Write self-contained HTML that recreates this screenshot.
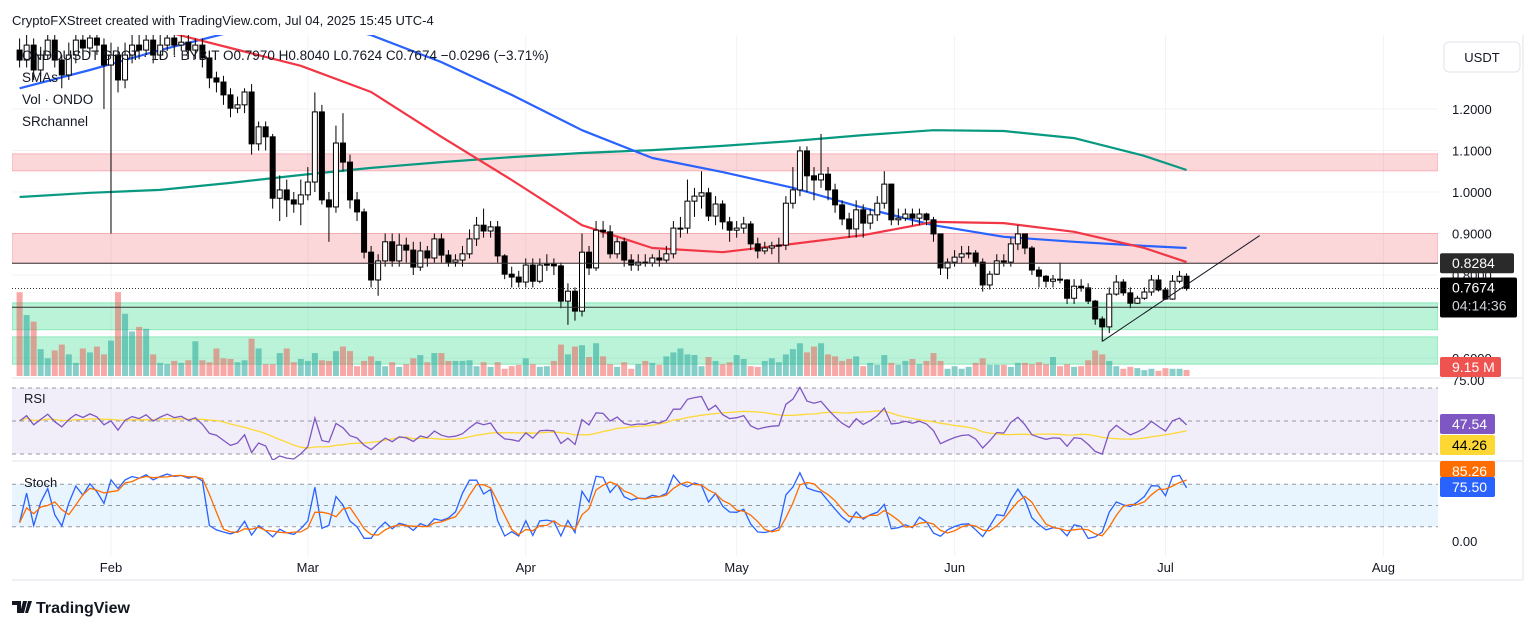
<!DOCTYPE html>
<html><head><meta charset="utf-8">
<style>
html,body{margin:0;padding:0;background:#fff;}
body{width:1536px;height:630px;overflow:hidden;font-family:"Liberation Sans",sans-serif;}
svg text{font-family:"Liberation Sans",sans-serif;}
</style></head>
<body>
<svg id="chart" width="1536" height="630" viewBox="0 0 1536 630" xmlns="http://www.w3.org/2000/svg">
  <defs>
    <clipPath id="mainClip"><rect x="12" y="35" width="1426" height="342"/></clipPath>
    <clipPath id="rsiClip"><rect x="12" y="380" width="1426" height="80"/></clipPath>
    <clipPath id="stClip"><rect x="12" y="463" width="1426" height="92"/></clipPath>
  </defs>
  <g id="grid"></g>
  <g id="zones" clip-path="url(#mainClip)"></g>
  <g id="vol" clip-path="url(#mainClip)"></g>
  <g id="smas" clip-path="url(#mainClip)"></g>
  <g id="candles" clip-path="url(#mainClip)"></g>
  <g id="annot" clip-path="url(#mainClip)"></g>
  <g id="rsi"></g>
  <g id="stoch"></g>
  <g id="axes"></g>

  <text x="12" y="25" font-size="13" fill="#131722">CryptoFXStreet created with TradingView.com, Jul 04, 2025 15:45 UTC-4</text>
  <text x="22" y="60" font-size="13.5" fill="#131722">ONDOUSDT SPOT · 1D · BYBIT  O0.7970  H0.8040  L0.7624  C0.7674  −0.0296 (−3.71%)</text>
  <text x="22" y="82" font-size="13.5" fill="#131722">SMAs</text>
  <text x="22" y="104" font-size="13.5" fill="#131722">Vol · ONDO</text>
  <text x="22" y="126" font-size="13.5" fill="#131722">SRchannel</text>
  <text x="24" y="403" font-size="13" fill="#131722">RSI</text>
  <text x="24" y="487" font-size="13" fill="#131722">Stoch</text>

  <g>
    <path d="M12 601h9v12h-4v-8h-5z M23 601h4l-3 12h-4z M28 601h4l-4 12h-3z" fill="#131722"/>
    <text x="36" y="613" font-size="16" font-weight="bold" fill="#131722">TradingView</text>
  </g>
</svg>
<script>
const NS="http://www.w3.org/2000/svg";
// ---------- DATA ----------
const closes=[1.318,1.354,1.294,1.330,1.366,1.318,1.282,1.330,1.366,1.347,
1.371,1.354,1.306,1.330,1.270,1.330,1.354,1.342,1.366,1.330,
1.354,1.371,1.354,1.361,1.342,1.354,1.323,1.275,1.265,1.234,
1.202,1.210,1.241,1.116,1.157,1.133,0.985,1.005,0.981,0.971,
0.993,1.024,1.193,0.981,0.964,1.118,1.072,0.981,0.952,0.855,
0.788,0.834,0.880,0.834,0.872,0.860,0.819,0.858,0.841,0.887,
0.848,0.831,0.836,0.851,0.887,0.920,0.906,0.916,0.846,0.802,
0.795,0.783,0.824,0.785,0.824,0.826,0.822,0.737,0.761,0.713,
0.855,0.817,0.908,0.904,0.851,0.880,0.836,0.824,0.831,0.829,
0.841,0.836,0.851,0.913,0.913,0.978,0.990,0.998,0.942,0.971,
0.928,0.908,0.913,0.923,0.875,0.858,0.865,0.870,0.872,0.973,
1.005,1.099,1.039,1.029,1.043,1.005,0.969,0.935,0.911,0.957,
0.925,0.945,0.973,1.019,0.933,0.937,0.947,0.937,0.947,0.933,
0.899,0.817,0.831,0.843,0.851,0.853,0.831,0.776,0.802,0.834,
0.831,0.875,0.899,0.865,0.812,0.797,0.785,0.790,0.788,0.744,
0.773,0.769,0.737,0.694,0.675,0.754,0.783,0.757,0.732,0.744,
0.759,0.788,0.764,0.742,0.785,0.797,0.7674];
const highs=[1.37,1.38,1.37,1.35,1.40,1.39,1.33,1.36,1.40,1.39,
1.40,1.40,1.37,1.36,1.35,1.36,1.38,1.38,1.40,1.38,
1.38,1.40,1.39,1.39,1.38,1.37,1.37,1.34,1.29,1.28,
1.25,1.23,1.25,1.26,1.17,1.17,1.14,1.04,1.03,1.00,
1.03,1.06,1.24,1.21,1.00,1.16,1.19,1.09,1.00,0.96,
0.87,0.85,0.90,0.90,0.90,0.89,0.88,0.88,0.87,0.90,
0.90,0.86,0.85,0.87,0.91,0.94,0.96,0.93,0.93,0.85,
0.82,0.81,0.84,0.84,0.84,0.85,0.84,0.83,0.78,0.77,
0.90,0.87,0.93,0.93,0.92,0.89,0.89,0.85,0.85,0.85,
0.85,0.86,0.87,0.93,0.94,1.03,1.01,1.05,1.01,0.99,
0.98,0.94,0.93,0.94,0.93,0.89,0.88,0.88,0.89,0.99,
1.06,1.11,1.11,1.06,1.14,1.06,1.02,0.98,0.95,0.98,
0.97,0.96,0.99,1.05,1.02,0.96,0.96,0.96,0.96,0.95,
0.94,0.90,0.84,0.86,0.87,0.87,0.86,0.84,0.81,0.85,
0.85,0.89,0.92,0.90,0.87,0.82,0.80,0.80,0.83,0.79,
0.79,0.79,0.78,0.74,0.70,0.77,0.80,0.79,0.77,0.75,
0.77,0.80,0.80,0.77,0.80,0.81,0.804];
const lows=[1.30,1.30,1.27,1.28,1.32,1.30,1.25,1.27,1.31,1.33,
1.33,1.33,1.20,0.90,1.24,1.25,1.31,1.32,1.33,1.31,
1.32,1.34,1.33,1.34,1.32,1.32,1.30,1.25,1.24,1.21,
1.18,1.19,1.19,1.09,1.10,1.10,0.96,0.93,0.94,0.95,
0.92,0.98,1.00,0.97,0.88,0.95,1.05,0.96,0.93,0.84,
0.77,0.75,0.82,0.82,0.82,0.83,0.80,0.81,0.82,0.83,
0.83,0.82,0.82,0.82,0.84,0.87,0.89,0.89,0.83,0.79,
0.77,0.77,0.77,0.77,0.78,0.81,0.80,0.72,0.68,0.69,
0.70,0.80,0.81,0.89,0.84,0.84,0.82,0.81,0.81,0.82,
0.82,0.82,0.83,0.84,0.89,0.90,0.94,0.96,0.93,0.92,
0.91,0.88,0.89,0.90,0.86,0.84,0.85,0.85,0.83,0.86,
0.96,0.99,1.00,0.98,1.01,0.98,0.95,0.92,0.89,0.89,
0.89,0.91,0.93,0.96,0.92,0.92,0.93,0.92,0.92,0.92,
0.88,0.80,0.79,0.82,0.83,0.84,0.82,0.76,0.765,0.80,
0.82,0.82,0.86,0.85,0.80,0.77,0.77,0.77,0.78,0.73,
0.73,0.76,0.73,0.68,0.64,0.66,0.75,0.75,0.72,0.73,
0.74,0.75,0.76,0.74,0.74,0.78,0.7624];
const firstOpen=1.342;
const volumes=[128,93,83,41,27,39,48,33,20,42,36,45,33,54,128,95,68,75,72,33,
20,18,23,20,24,53,24,21,42,27,26,21,24,57,42,18,18,35,42,21,
26,23,35,24,23,38,45,38,15,23,30,23,15,21,14,18,27,32,21,35,
35,23,23,23,24,15,21,14,21,11,15,17,27,18,14,15,23,48,33,45,
47,29,50,30,18,14,21,11,18,23,20,17,30,36,42,33,32,15,29,23,
18,21,32,26,15,14,23,27,21,33,41,50,36,45,50,33,30,23,26,30,
15,20,17,32,20,17,23,26,18,23,35,23,11,15,11,14,20,27,17,17,
17,14,20,20,18,21,18,29,15,18,14,15,24,39,33,23,15,11,14,12,
9,11,8,12,11,11,9.15];
// SMA samples (price) every 10 bars + last
const smaIdx=[0,10,20,30,40,50,60,70,80,90,100,110,120,130,140,150,160,166];
const sma200=[0.988,0.998,1.005,1.022,1.041,1.058,1.072,1.084,1.094,1.101,1.111,1.123,1.137,1.149,1.147,1.130,1.087,1.053];
const sma100=[1.250,1.294,1.342,1.385,1.42,1.378,1.313,1.234,1.149,1.082,1.048,1.010,0.962,0.920,0.892,0.880,0.870,0.865];
const sma50Idx=[20,30,40,50,60,70,80,90,100,110,120,130,140,150,160,166];
const sma50=[1.39,1.347,1.304,1.241,1.133,1.029,0.920,0.865,0.855,0.875,0.896,0.928,0.925,0.904,0.865,0.831];
const priceTicks=[1.2,1.1,1.0,0.9,0.8,0.6];
const monthLabels=["Feb","Mar","Apr","May","Jun","Jul","Aug"];
const monthIdx=[13,41,72,102,133,163,194];

// ---------- SCALES ----------
const xOf=i=>19.6+7.03*i;
const yP=p=>192-(p-1.0)*415;
const yV=v=>376-v*0.655;
const yR=v=>421-(v-50)*1.65;
const yS=v=>541-v*0.71;
function el(tag,attrs,parent){const e=document.createElementNS(NS,tag);for(const k in attrs)e.setAttribute(k,attrs[k]);parent.appendChild(e);return e;}
const G=id=>document.getElementById(id);

// grid
const grid=G('grid');
monthIdx.forEach(i=>{const l=el('line',{x1:xOf(i),x2:xOf(i),y1:35,y2:556,stroke:'#f2f3f5','stroke-width':1},grid);

});
priceTicks.forEach(p=>{const l=el('line',{x1:12,x2:1438,y1:yP(p),y2:yP(p),stroke:'#f2f3f5'},grid);

});

// zones
const zones=G('zones');
function band(p1,p2,fill,stroke,name){const y1=yP(p1),y2=yP(p2);
 const r=el('rect',{x:12,y:y1,width:1426,height:y2-y1,fill:fill,stroke:stroke,'stroke-width':1},zones);
 
 }
band(1.092,1.051,'rgba(242,54,69,0.2)','rgba(242,54,69,0.3)','resistance-zone-upper');
band(0.9,0.8284,'rgba(242,54,69,0.2)','rgba(242,54,69,0.3)','resistance-zone-lower');
band(0.733,0.668,'rgba(0,210,110,0.27)','rgba(0,200,100,0.35)','support-zone-upper');
band(0.651,0.585,'rgba(0,210,110,0.27)','rgba(0,200,100,0.35)','support-zone-lower');

// volume
const vol=G('vol');
volumes.forEach((v,i)=>{const o=i?closes[i-1]:firstOpen;const up=closes[i]>=o;
 const r=el('rect',{x:xOf(i)-3,y:yV(v),width:6,height:376-yV(v),fill:up?'rgba(38,166,154,0.55)':'rgba(239,83,80,0.5)'},vol);
 
 });

// SMAs
const smas=G('smas');
function line(idx,vals,color,name){const d=idx.map((i,k)=>(k?'L':'M')+xOf(i).toFixed(1)+' '+yP(vals[k]).toFixed(1)).join(' ');
 const p=el('path',{d:d,fill:'none',stroke:color,'stroke-width':2.2,'stroke-linejoin':'round'},smas);
 
 }
line(smaIdx,sma200,'#089981','sma-200-line');
line(smaIdx,sma100,'#2962ff','sma-100-line');
line(sma50Idx,sma50,'#f23645','sma-50-line');

// candles
const cg=G('candles');
closes.forEach((c,i)=>{const o=i?closes[i-1]:firstOpen;const x=xOf(i);
 const w=el('line',{x1:x,x2:x,y1:yP(highs[i]),y2:yP(lows[i]),stroke:'#000','stroke-width':1},cg);
 
 
 const top=yP(Math.max(o,c)),bot=yP(Math.min(o,c));
 const b=el('rect',{x:x-2.5,y:top,width:5,height:Math.max(1,bot-top),fill:c>=o?'#fff':'#000',stroke:'#000','stroke-width':1},cg);
 
 });

// annotations
const an=G('annot');
let a=el('line',{x1:12,x2:1438,y1:yP(0.8284),y2:yP(0.8284),stroke:'#333','stroke-width':1},an);


a=el('line',{x1:12,x2:1438,y1:yP(0.7224),y2:yP(0.7224),stroke:'#333','stroke-width':1},an);


a=el('line',{x1:12,x2:1438,y1:yP(0.7674),y2:yP(0.7674),stroke:'#333','stroke-width':1,'stroke-dasharray':'1 2'},an);


a=el('line',{x1:xOf(154),y1:yP(0.64),x2:xOf(176.4),y2:yP(0.895),stroke:'#131722','stroke-width':1},an);



// RSI (Wilder, seeded neutral)
const rsiVals=[];{let ag=0.02,al=0.02;for(let i=1;i<closes.length;i++){const ch=closes[i]-closes[i-1];const g=Math.max(ch,0),l=Math.max(-ch,0);
 ag=(ag*13+g)/14;al=(al*13+l)/14;
 rsiVals[i]=al===0?100:100-100/(1+ag/al);} rsiVals[0]=50;}
const rsiMa=rsiVals.map((v,i)=>{const s=rsiVals.slice(Math.max(0,i-13),i+1);return s.reduce((a,b)=>a+b,0)/s.length;});
const rg=G('rsi');
let r=el('rect',{x:12,y:yR(70),width:1426,height:yR(30)-yR(70),fill:'rgba(126,87,194,0.1)'},rg);


[70,50,30].forEach(v=>{const l=el('line',{x1:12,x2:1438,y1:yR(v),y2:yR(v),stroke:'#9598a1','stroke-width':1,'stroke-dasharray':'4 4'},rg);
 
 });
function pline(arr,yf,color,parent,name,clip){const d=arr.map((v,i)=>(i?'L':'M')+xOf(i).toFixed(1)+' '+yf(v).toFixed(1)).join(' ');
 const p=el('path',{d:d,fill:'none',stroke:color,'stroke-width':1.3,'clip-path':clip},parent);
 
 }
pline(rsiMa,yR,'#fdd835',rg,'rsi-ma-line','url(#rsiClip)');
pline(rsiVals,yR,'#7e57c2',rg,'rsi-line','url(#rsiClip)');

// Stoch
const kVals=closes.map((c,i)=>{const s=Math.max(0,i-13);const hh=Math.max(...highs.slice(s,i+1)),ll=Math.min(...lows.slice(s,i+1));return hh===ll?50:100*(c-ll)/(hh-ll);});
const dVals=kVals.map((v,i)=>{const s=kVals.slice(Math.max(0,i-2),i+1);return s.reduce((a,b)=>a+b,0)/s.length;});
const sg=G('stoch');
r=el('rect',{x:12,y:yS(80),width:1426,height:yS(20)-yS(80),fill:'rgba(33,150,243,0.1)'},sg);


[80,50,20].forEach(v=>{const l=el('line',{x1:12,x2:1438,y1:yS(v),y2:yS(v),stroke:'#9598a1','stroke-width':1,'stroke-dasharray':'4 4'},sg);
 
 });
pline(kVals,yS,'#2962ff',sg,'stoch-k-line','url(#stClip)');
pline(dVals,yS,'#ff6d00',sg,'stoch-d-line','url(#stClip)');

// axes
const ax=G('axes');
[[12,378,1523,378],[12,461,1523,461],[1523,35,1523,580],[12,580,1523,580]].forEach(c=>{const l=el('line',{x1:c[0],y1:c[1],x2:c[2],y2:c[3],stroke:'#e0e3eb','stroke-width':1},ax);
 
 });
function txt(x,y,s,opt,name,inter){const t=el('text',Object.assign({x:x,y:y,'font-size':13,fill:'#131722'},opt||{}),ax);t.textContent=s;
 
 return t;}
priceTicks.forEach(p=>txt(1452,yP(p)+5,p.toFixed(4),{},'price-tick-label'));
txt(1452,385,'75.00',{},'rsi-tick-label');
txt(1452,546,'0.00',{},'stoch-tick-label');
monthLabels.forEach((m,k)=>txt(xOf(monthIdx[k]),572,m,{'text-anchor':'middle'},'time-tick-label'));
let u=el('rect',{x:1444,y:42,width:76,height:30,rx:5,fill:'#fff',stroke:'#e0e3eb'},ax);


txt(1482,62,'USDT',{'text-anchor':'middle'},'currency-label',true);
function tag(y,h,fill,lines,col,name,w){const b=el('rect',{x:1440,y:y,width:w||74,height:h,rx:2,fill:fill},ax);
 
 
 lines.forEach((s,k)=>txt(1452,y+15+k*18,s,{fill:k?'#d1d4dc':col,'font-size':14},name+'-text'));}
tag(yP(0.8284)-10,20,'#2a2a2a',['0.8284'],'#fff','level-tag-0.8284');
tag(yP(0.7224)-10,20,'#2a2a2a',['0.7224'],'#fff','level-tag-0.7224');
tag(yP(0.7674)-11,40,'#000',['0.7674','04:14:36'],'#fff','last-price-tag',77);
tag(357,20,'#ef5350',['9.15 M'],'#fff','volume-tag',61);
tag(414,20,'#7e57c2',['47.54'],'#fff','rsi-value-tag',55);
tag(435,20,'#fdd835',['44.26'],'#000','rsi-ma-tag',55);
tag(461,16,'#ff6d00',['85.26'],'#fff','stoch-d-tag',55);
tag(477,20,'#2962ff',['75.50'],'#fff','stoch-k-tag',55);
</script>
</body></html>
